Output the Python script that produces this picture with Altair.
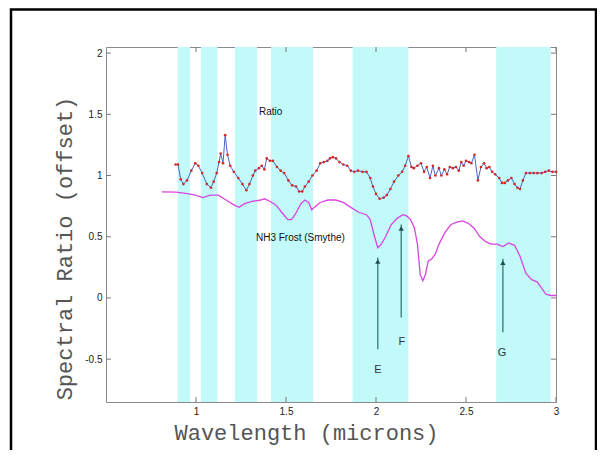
import altair as alt
import pandas as pd

# ---------------- data ----------------
ratio_wl = [0.887, 0.90, 0.915, 0.93, 0.95, 0.974, 0.996, 1.013, 1.034, 1.06, 1.083, 1.098,
            1.115, 1.128, 1.137, 1.15, 1.162, 1.175, 1.19, 1.21, 1.235, 1.258, 1.28, 1.297,
            1.316, 1.329, 1.35, 1.365, 1.38, 1.393, 1.41, 1.427, 1.45, 1.47, 1.49, 1.513,
            1.534, 1.556, 1.573, 1.59, 1.605, 1.626, 1.647, 1.67, 1.69, 1.71, 1.73, 1.744,
            1.76, 1.778, 1.797, 1.818, 1.84, 1.86, 1.88, 1.90, 1.925, 1.947, 1.968, 1.983,
            2.0, 2.02, 2.043, 2.06, 2.08, 2.10, 2.124, 2.145, 2.162, 2.18, 2.197, 2.21,
            2.23, 2.25, 2.267, 2.282, 2.30, 2.316, 2.33, 2.35, 2.363, 2.38, 2.395, 2.41,
            2.427, 2.444, 2.46, 2.474, 2.487, 2.50, 2.517, 2.53, 2.547, 2.566, 2.583, 2.60,
            2.615, 2.63, 2.645, 2.662, 2.684, 2.70, 2.716, 2.733, 2.752, 2.77, 2.786, 2.80,
            2.816, 2.833, 2.855, 2.876, 2.897, 2.92, 2.94, 2.96, 2.98, 3.0]
ratio_val = [1.09, 1.09, 0.97, 0.93, 0.96, 1.04, 1.10, 1.08, 1.02, 0.93, 0.90, 0.95,
             1.02, 1.11, 1.18, 1.10, 1.33, 1.17, 1.08, 1.03, 0.98, 0.93, 0.88, 0.93,
             1.00, 1.04, 1.06, 1.08, 1.05, 1.14, 1.12, 1.12, 1.07, 1.04, 1.02, 0.96,
             0.92, 0.91, 0.87, 0.87, 0.91, 0.95, 1.00, 1.04, 1.10, 1.11, 1.12, 1.14,
             1.15, 1.14, 1.11, 1.09, 1.08, 1.04, 1.03, 1.04, 1.03, 1.03, 0.98, 0.91,
             0.85, 0.81, 0.82, 0.84, 0.89, 0.95, 1.00, 1.03, 1.08, 1.16, 1.07, 1.06,
             1.08, 1.10, 1.03, 1.07, 0.98, 1.08, 1.00, 1.06, 1.00, 1.05, 1.01, 1.07,
             1.06, 1.07, 1.04, 1.11, 1.08, 1.12, 1.11, 1.10, 1.17, 0.96, 1.07, 1.10,
             1.06, 1.07, 1.03, 1.01, 0.98, 0.94, 0.94, 0.96, 0.98, 0.93, 0.90, 0.89,
             0.96, 1.02, 1.02, 1.02, 1.02, 1.02, 1.03, 1.04, 1.03, 1.03]

frost_wl = [0.81, 0.89, 0.953, 0.996, 1.038, 1.08, 1.124, 1.167, 1.21, 1.24, 1.27, 1.316,
            1.36, 1.38, 1.41, 1.444, 1.476, 1.51, 1.53, 1.55, 1.583, 1.605, 1.626, 1.643,
            1.658, 1.69, 1.733, 1.776, 1.818, 1.86, 1.904, 1.947, 1.968, 1.99, 2.01, 2.03,
            2.053, 2.085, 2.117, 2.15, 2.17, 2.192, 2.214, 2.23, 2.246, 2.26, 2.274, 2.29,
            2.31, 2.33, 2.35, 2.385, 2.417, 2.45, 2.48, 2.513, 2.545, 2.577, 2.61, 2.64,
            2.673, 2.705, 2.737, 2.77, 2.80, 2.833, 2.865, 2.897, 2.92, 2.944, 2.972, 3.0]
frost_val = [0.867, 0.864, 0.853, 0.84, 0.82, 0.84, 0.84, 0.80, 0.76, 0.74, 0.77, 0.79,
             0.80, 0.81, 0.79, 0.76, 0.70, 0.64, 0.64, 0.68, 0.77, 0.80, 0.78, 0.72,
             0.74, 0.78, 0.80, 0.80, 0.78, 0.74, 0.70, 0.68, 0.64, 0.51, 0.41, 0.44,
             0.50, 0.60, 0.65, 0.68, 0.67, 0.64, 0.57, 0.44, 0.19, 0.14, 0.19, 0.30,
             0.32, 0.36, 0.44, 0.54, 0.60, 0.62, 0.63, 0.61, 0.57, 0.50, 0.46, 0.44,
             0.44, 0.42, 0.45, 0.43, 0.34, 0.20, 0.15, 0.13, 0.08, 0.03, 0.02, 0.02]

band_start = [0.898, 1.027, 1.216, 1.417, 1.87, 2.668]
band_end = [0.967, 1.119, 1.34, 1.65, 2.18, 2.97]

arrow_x = [2.01, 2.14, 2.705]
arrow_from = [-0.42, -0.16, -0.28]
arrow_to = [0.33, 0.60, 0.32]

letters = ["E", "F", "G"]
letter_x = [2.01, 2.143, 2.70]
letter_y = [-0.59, -0.36, -0.45]

notes = ["Ratio", "NH3 Frost (Smythe)"]
note_x = [1.415, 1.58]
note_y = [1.52, 0.49]

x_ticks = [1, 1.5, 2, 2.5, 3]
y_ticks = [-0.5, 0, 0.5, 1, 1.5, 2]

# ---------------- chart ----------------
W, H = 450, 355
xs = alt.Scale(domain=[0.5, 3.0], nice=False, zero=False)
ys = alt.Scale(domain=[-0.85, 2.05], nice=False, zero=False)

ratio_df = pd.DataFrame({"x": ratio_wl, "y": ratio_val})
frost_df = pd.DataFrame({"x": frost_wl, "y": frost_val})
band_df = pd.DataFrame({"x": band_start, "x2": band_end})
arrow_df = pd.DataFrame({"x": arrow_x, "y": arrow_from, "y2": arrow_to})
letter_df = pd.DataFrame({"x": letter_x, "y": letter_y, "t": letters})
note_df = pd.DataFrame({"x": note_x, "y": note_y, "t": notes})
xt_df = pd.DataFrame({"x": x_ticks})
yt_df = pd.DataFrame({"y": y_ticks})
one_df = pd.DataFrame({"a": [0]})

x_axis = alt.Axis(values=x_ticks, ticks=False, grid=False, domain=False,
                  labelExpr="'' + datum.value",
                  labelFont="Liberation Sans", labelFontSize=10, labelColor="#222",
                  labelPadding=4, labelFlush=False,
                  title="Wavelength (microns)", titleFont="Liberation Mono",
                  titleFontSize=22, titleFontWeight="normal", titleColor="#555555",
                  titleX=200, titleY=30, titleBaseline="middle", titleAlign="center")
y_axis = alt.Axis(values=y_ticks, ticks=False, grid=False, domain=False,
                  labelExpr="'' + datum.value",
                  labelFont="Liberation Sans", labelFontSize=10, labelColor="#222",
                  labelPadding=4, labelFlush=False,
                  title="Spectral Ratio (offset)", titleFont="Liberation Mono",
                  titleFontSize=22, titleFontWeight="normal", titleColor="#555555",
                  titleX=-42, titleY=201, titleBaseline="middle", titleAlign="center",
                  titleAngle=270)

bands = alt.Chart(band_df).mark_rect(color="#c2f9f9").encode(
    x=alt.X("x:Q", scale=xs, axis=x_axis), x2="x2:Q",
    y=alt.value(0), y2=alt.value(H))

frost = alt.Chart(frost_df).mark_line(color="#d845e0", strokeWidth=1.3).encode(
    x=alt.X("x:Q", scale=xs), y=alt.Y("y:Q", scale=ys, axis=y_axis))

ratio_line = alt.Chart(ratio_df).mark_line(color="#4a62c8", strokeWidth=1).encode(
    x=alt.X("x:Q", scale=xs), y=alt.Y("y:Q", scale=ys))
ratio_pts = alt.Chart(ratio_df).mark_circle(color="#d42828", size=7, opacity=1).encode(
    x=alt.X("x:Q", scale=xs), y=alt.Y("y:Q", scale=ys))

arrows = alt.Chart(arrow_df).mark_rule(color="#2e6e6e", strokeWidth=1.2).encode(
    x=alt.X("x:Q", scale=xs), y=alt.Y("y:Q", scale=ys), y2="y2:Q")
heads = alt.Chart(arrow_df).mark_point(shape="triangle-up", filled=True, size=28,
                                        color="#1f4f4f", opacity=1, yOffset=4).encode(
    x=alt.X("x:Q", scale=xs), y=alt.Y("y2:Q", scale=ys))

letter_txt = alt.Chart(letter_df).mark_text(font="Liberation Sans", fontSize=11,
                                             color="#333").encode(
    x=alt.X("x:Q", scale=xs), y=alt.Y("y:Q", scale=ys), text="t:N")
note_txt = alt.Chart(note_df).mark_text(font="Liberation Sans", fontSize=10,
                                         color="#111").encode(
    x=alt.X("x:Q", scale=xs), y=alt.Y("y:Q", scale=ys), text="t:N")

tick_col = "#777"
lt = alt.Chart(yt_df).mark_rule(color=tick_col).encode(
    y=alt.Y("y:Q", scale=ys), x=alt.value(0), x2=alt.value(5))
rt = alt.Chart(yt_df).mark_rule(color=tick_col).encode(
    y=alt.Y("y:Q", scale=ys), x=alt.value(W - 5), x2=alt.value(W))
bt = alt.Chart(xt_df).mark_rule(color=tick_col).encode(
    x=alt.X("x:Q", scale=xs), y=alt.value(H - 5), y2=alt.value(H))
tt = alt.Chart(xt_df).mark_rule(color=tick_col).encode(
    x=alt.X("x:Q", scale=xs), y=alt.value(0), y2=alt.value(5))

frame = alt.Chart(one_df).mark_rect(fill=None, stroke="black", strokeWidth=2.5).encode(
    x=alt.value(-95), x2=alt.value(490), y=alt.value(-37.5), y2=alt.value(420))

chart = alt.layer(bands, frost, ratio_line, ratio_pts, arrows, heads, letter_txt,
                  note_txt, lt, rt, bt, tt, frame).properties(
    width=W, height=H,
    autosize=alt.AutoSizeParams(type="none"),
    padding={"left": 98, "top": 39, "right": 41, "bottom": 48},
    background="white",
).configure_view(stroke="#8a8a8a", strokeWidth=1)

chart.save("out.html", embed_options={"renderer": "svg", "actions": False})
